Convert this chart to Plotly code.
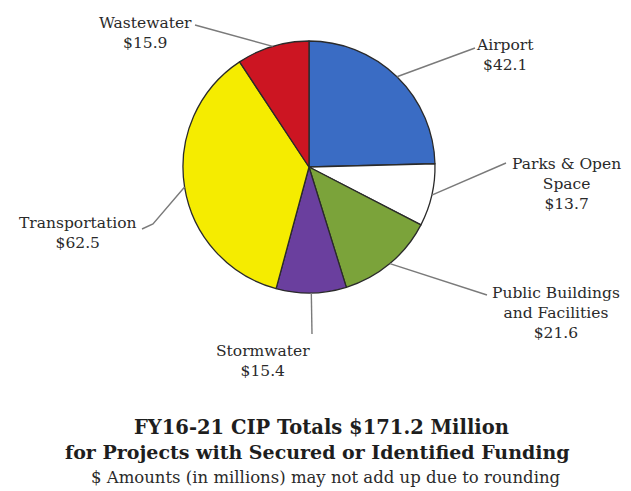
import math
import plotly.graph_objects as go

categories = ["Airport", "Parks & Open Space", "Public Buildings and Facilities",
              "Stormwater", "Transportation", "Wastewater"]
values = [42.1, 13.7, 21.6, 15.4, 62.5, 15.9]
label_texts = ["Airport<br>$42.1", "Parks & Open<br>Space<br>$13.7",
               "Public Buildings<br>and Facilities<br>$21.6", "Stormwater<br>$15.4",
               "Transportation<br>$62.5", "Wastewater<br>$15.9"]
title_lines = ["FY16-21 CIP Totals $171.2 Million",
               "for Projects with Secured or Identified Funding"]
subtitle = "$ Amounts (in millions) may not add up due to rounding"

colors = ["#3a6cc4", "#ffffff", "#7ba33a", "#6a3f9e", "#f5ec00", "#cc1522"]

OFF = 8                      # page body margin
W, H = 631 - OFF, 491 - OFF  # figure size
cx, cy, r = 309, 167, 126    # pie geometry in page pixels (y from top)

def px(x):
    return (x - OFF) / W

def py(y):
    return 1 - (y - OFF) / H

fig = go.Figure(go.Pie(
    labels=categories, values=values, sort=False, direction="clockwise",
    rotation=0, textinfo="none", hoverinfo="label+value",
    marker=dict(colors=colors, line=dict(color="#2a2a2a", width=1.3)),
    domain=dict(x=[px(cx - r), px(cx + r)], y=[py(cy + r), py(cy - r)]),
    showlegend=False,
))

# label placements (page pixels): text block center, leader start, optional elbow
label_pos = [(505, 55), (566, 184), (556, 313), (263, 361), (78, 233), (145, 33)]
leader_start = [(475, 48), (506, 163), (487, 295), (312, 334), (142, 229), (195, 25)]
leader_elbow = [None, None, None, None, (153, 224), None]

total = sum(values)
cum = 0
shapes = []
annotations = []
for i, v in enumerate(values):
    mid = (cum + v / 2) / total
    cum += v
    th = 2 * math.pi * mid
    ex, ey = cx + r * math.sin(th), cy - r * math.cos(th)
    pts = [leader_start[i]]
    if leader_elbow[i]:
        pts.append(leader_elbow[i])
    pts.append((ex, ey))
    path = "M " + " L ".join(f"{px(a):.5f},{py(b):.5f}" for a, b in pts)
    shapes.append(dict(type="path", xref="paper", yref="paper", path=path,
                       line=dict(color="#7a7a7a", width=1.4)))
    lx, ly = label_pos[i]
    annotations.append(dict(x=px(lx), y=py(ly), xref="paper", yref="paper",
                            text=label_texts[i], showarrow=False,
                            font=dict(family="DejaVu Serif", size=15.5, color="#2a2a2a"),
                            align="center", xanchor="center", yanchor="middle"))

annotations.append(dict(x=px(321), y=py(427), xref="paper", yref="paper",
                        text="<b>" + title_lines[0] + "</b>", showarrow=False,
                        font=dict(family="DejaVu Serif", size=19.5, color="#1e1e1e"),
                        xanchor="center", yanchor="middle"))
annotations.append(dict(x=px(317), y=py(452), xref="paper", yref="paper",
                        text="<b>" + title_lines[1] + "</b>", showarrow=False,
                        font=dict(family="DejaVu Serif", size=19, color="#1e1e1e"),
                        xanchor="center", yanchor="middle"))
annotations.append(dict(x=px(326), y=py(477), xref="paper", yref="paper",
                        text=subtitle, showarrow=False,
                        font=dict(family="DejaVu Serif", size=16.5, color="#2a2a2a"),
                        xanchor="center", yanchor="middle"))

fig.update_layout(width=W, height=H, margin=dict(l=0, r=0, t=0, b=0),
                  paper_bgcolor="white", plot_bgcolor="white",
                  shapes=shapes, annotations=annotations)
fig.write_html("out.html")
